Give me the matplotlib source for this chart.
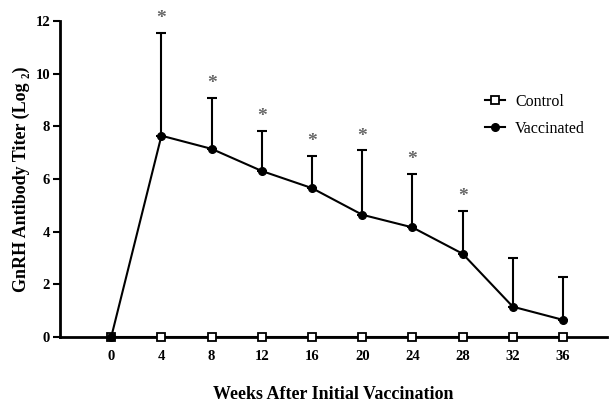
import matplotlib
matplotlib.use("Agg")
import matplotlib.pyplot as plt
from matplotlib.lines import Line2D
import numpy as np

weeks = [0, 4, 8, 12, 16, 20, 24, 28, 32, 36]
control = [0, 0, 0, 0, 0, 0, 0, 0, 0, 0]
vaccinated = [0, 7.64, 7.14, 6.30, 5.65, 4.64, 4.16, 3.16, 1.15, 0.65]
vacc_err = [0, 3.89, 1.94, 1.51, 1.21, 2.44, 2.04, 1.63, 1.84, 1.64]
significant = [False, True, True, True, True, True, True, True, False, False]
yticks = [0, 2, 4, 6, 8, 10, 12]

plt.rcParams['font.family'] = ['Liberation Serif', 'DejaVu Serif']

fig = plt.figure(figsize=(6.10, 4.08), dpi=100)
ax = fig.add_axes([0.098, 0.174, 0.897, 0.775])

ax.plot(weeks, control, '-s', color='black', lw=1.5, ms=6, mfc='white',
        mec='black', mew=1.3, clip_on=False, zorder=4)
ax.errorbar(weeks, vaccinated, yerr=[np.zeros(len(vacc_err)), vacc_err],
            fmt='-o', color='black', lw=1.5, ms=5.5, elinewidth=1.5,
            capsize=3.5, capthick=1.5, clip_on=False, zorder=5)

for w, v, e, s in zip(weeks, vaccinated, vacc_err, significant):
    if s:
        ax.text(w, v + e + 0.22, '*', ha='center', va='bottom', fontsize=14,
                color='#666666', fontweight='bold')

ax.set_xlim(-4.1, 39.5)
ax.set_ylim(0, 12)
ax.set_xticks(weeks)
ax.set_xticklabels([str(w) for w in weeks])
ax.set_yticks(yticks)
ax.tick_params(axis='x', length=0, pad=9, labelsize=10.5)
ax.tick_params(axis='y', length=5, width=1.5, labelsize=10.5, direction='out', pad=2)
for lab in ax.get_xticklabels() + ax.get_yticklabels():
    lab.set_fontweight('bold')

for sp in ['top', 'right']:
    ax.spines[sp].set_visible(False)
ax.spines['left'].set_linewidth(2)
ax.spines['bottom'].set_linewidth(2)

ax.set_ylabel('GnRH Antibody Titer (Log ₂)', fontsize=13, fontweight='bold', labelpad=4)
ax.set_xlabel('Weeks After Initial Vaccination', fontsize=13, fontweight='bold', labelpad=17)

handles = [
    Line2D([], [], color='black', lw=1.5, marker='s', ms=6, mfc='white', mec='black', mew=1.3),
    Line2D([], [], color='black', lw=1.5, marker='o', ms=5.5),
]
ax.legend(handles, ['Control', 'Vaccinated'], loc='upper left',
          bbox_to_anchor=(0.75, 0.815), frameon=False, fontsize=11.5,
          handlelength=1.3, handletextpad=0.6, labelspacing=0.7)

fig.savefig('out.png', dpi=100)
